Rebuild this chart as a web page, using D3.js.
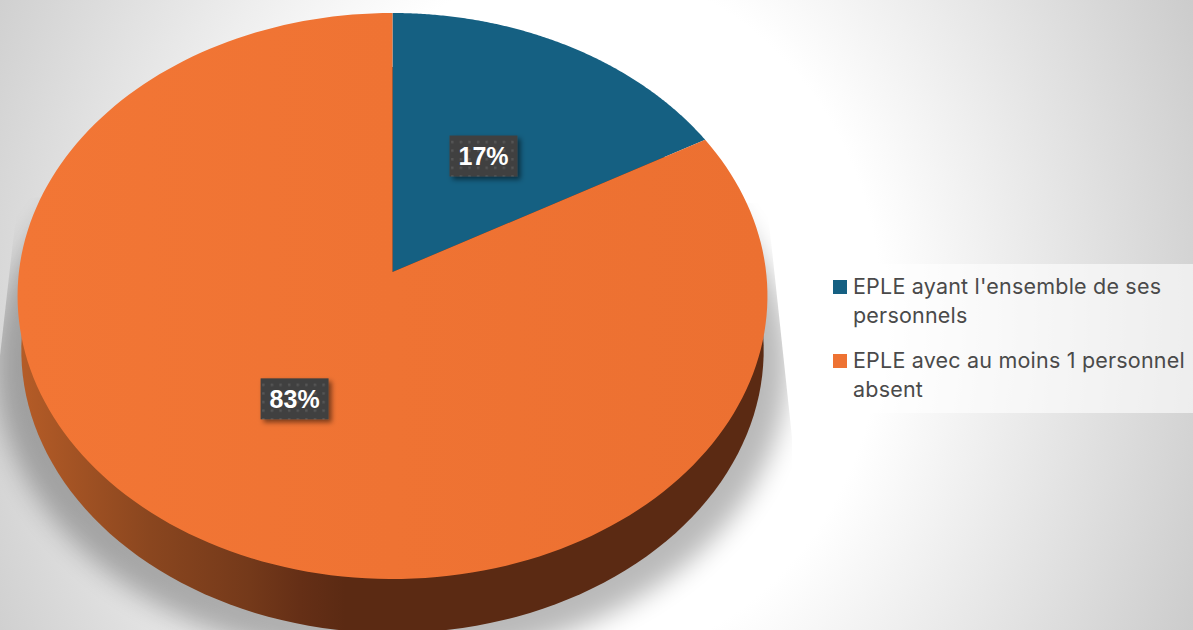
<!DOCTYPE html>
<html lang="fr">
<head>
<meta charset="UTF-8">
<title>EPLE</title>
<script src="https://cdn.jsdelivr.net/npm/d3@7"></script>
<style>
    body { margin: 0; background: #fff; overflow: hidden; }
    svg { display: block; }
    .legend text { font-family: Inter, "Noto Sans", sans-serif; font-size: 21.5px; letter-spacing: 0.2px; fill: #4a4a4a; }
    .label text { font-family: "Liberation Sans", Arial, sans-serif; font-size: 25px; font-weight: 700; fill: #fff; text-anchor: middle; }
</style>
</head>
<body>
<div id="chart"></div>
<script>
const categories = ["EPLE ayant l'ensemble de ses personnels", "EPLE avec au moins 1 personnel absent"];
const values = [16.85, 83.15];
const valueLabels = ["17%", "83%"];
const legendLines = [["EPLE ayant l'ensemble de ses", "personnels"], ["EPLE avec au moins 1 personnel", "absent"]];
const colors = ["#156082", "url(#topOrange)"];
const swatchColors = ["#156082", "#ee7232"];

const width = 1193, height = 630;
const svg = d3.select("#chart").append("svg").attr("width", width).attr("height", height);
const defs = svg.append("defs");

// slide background
const bg = defs.append("radialGradient").attr("id", "bg")
    .attr("gradientUnits", "userSpaceOnUse")
    .attr("cx", 0).attr("cy", 0).attr("r", 670)
    .attr("gradientTransform", "translate(580,315) scale(1,1.15)");
bg.append("stop").attr("offset", 0).attr("stop-color", "#fff");
bg.append("stop").attr("offset", 0.45).attr("stop-color", "#fff");
bg.append("stop").attr("offset", 1).attr("stop-color", "#cccccc");

const topGrad = defs.append("linearGradient").attr("id", "topOrange");
topGrad.append("stop").attr("offset", 0).attr("stop-color", "#f27635");
topGrad.append("stop").attr("offset", 1).attr("stop-color", "#ec7031");

const sideGrad = defs.append("linearGradient").attr("id", "side")
    .attr("gradientUnits", "userSpaceOnUse").attr("x1", 20).attr("x2", 768);
[[20, "#b55c27"], [150, "#8a461f"], [250, "#74391a"], [300, "#652f16"], [345, "#5b2a13"], [768, "#5b2a13"]].forEach(s => {
    sideGrad.append("stop").attr("offset", (s[0] - 20) / 748).attr("stop-color", s[1]);
});

defs.append("filter").attr("id", "blur")
    .attr("x", "-10%").attr("y", "-10%").attr("width", "120%").attr("height", "120%")
    .append("feGaussianBlur").attr("stdDeviation", 13);

// the shadow stops on a trapezoid, the same way the original does
defs.append("clipPath").attr("id", "shadowClip").append("polygon")
    .attr("points", "18,197 767,203 792,437 792,700 -30,700 -30,620");

const dots = defs.append("pattern").attr("id", "dots")
    .attr("patternUnits", "userSpaceOnUse").attr("width", 8.6).attr("height", 8.6);
dots.append("rect").attr("width", 8.6).attr("height", 8.6).attr("fill", "#404040");
dots.append("rect").attr("x", 2).attr("y", 2).attr("width", 2.4).attr("height", 2.4).attr("fill", "#565656");

const labelShadow = defs.append("filter").attr("id", "labelShadow")
    .attr("x", "-30%").attr("y", "-30%").attr("width", "170%").attr("height", "170%");
labelShadow.append("feDropShadow").attr("dx", 3).attr("dy", 3).attr("stdDeviation", 2.5)
    .attr("flood-color", "#000").attr("flood-opacity", 0.5);

svg.append("rect").attr("width", width).attr("height", height).attr("fill", "url(#bg)");

// tilted disc: a unit circle pushed through a small perspective
const cx = 392.5, persp = -0.0848, kx = 373.6, ky = 257.9, apexY = 272;
const project = (x, y, scaleX = 1, drop = 0) => {
    const w = 1 + persp * y;
    return [cx + scaleX * kx * x / w, (ky * y + apexY) / w + drop];
};
const onCircle = a => [Math.sin(a), -Math.cos(a)];
const line = d3.line();
const angleSteps = (a0, a1) => d3.range(0, 181).map(i => a0 + (a1 - a0) * i / 180);

const rim = angleSteps(0, 2 * Math.PI).map(a => onCircle(a));

svg.append("g").attr("clip-path", "url(#shadowClip)").append("ellipse")
    .attr("cx", 392).attr("cy", 365).attr("rx", 396).attr("ry", 297)
    .attr("fill", "#000").attr("opacity", 0.27).attr("filter", "url(#blur)");

svg.append("path")
    .attr("d", line(rim.map(p => project(p[0], p[1], 0.99, 54))) + "Z")
    .attr("fill", "url(#side)");

const arcs = d3.pie().sort(null).value(d => d)(values);

svg.append("g").selectAll("path").data(arcs).enter().append("path")
    .attr("d", d => {
        const pts = angleSteps(d.startAngle, d.endAngle).map(a => {
            const p = onCircle(a);
            return project(p[0], p[1]);
        });
        pts.push(project(0, 0));
        return line(pts) + "Z";
    })
    .attr("fill", (d, i) => colors[i]);

// labels sit on the slice centroid
const centroid = d3.arc().innerRadius(0).outerRadius(1);
const boxW = 68, boxH = 41;
const label = svg.append("g").selectAll("g").data(arcs).enter().append("g")
    .attr("class", "label")
    .attr("transform", d => {
        const c = centroid.centroid(d);
        const p = project(c[0], c[1]);
        return "translate(" + p[0] + "," + (p[1] + 1) + ")";
    });
label.append("rect")
    .attr("x", -boxW / 2).attr("y", -boxH / 2).attr("width", boxW).attr("height", boxH)
    .attr("fill", "url(#dots)").attr("filter", "url(#labelShadow)");
label.append("text").attr("y", 9).text((d, i) => valueLabels[i]);

// legend
const legend = svg.append("g").attr("class", "legend");
legend.append("rect").attr("x", 821).attr("y", 264).attr("width", 372).attr("height", 149)
    .attr("fill", "#fff").attr("opacity", 0.6);
const entries = legend.selectAll("g").data(categories).enter().append("g")
    .attr("transform", (d, i) => "translate(833," + (280 + i * 74) + ")");
entries.append("rect").attr("width", 14).attr("height", 14).attr("fill", (d, i) => swatchColors[i]);
entries.append("text").attr("x", 20).attr("y", 14)
    .selectAll("tspan").data((d, i) => legendLines[i]).enter().append("tspan")
    .attr("x", 20).attr("dy", (d, i) => i ? 29 : 0).text(d => d);
</script>
</body>
</html>
